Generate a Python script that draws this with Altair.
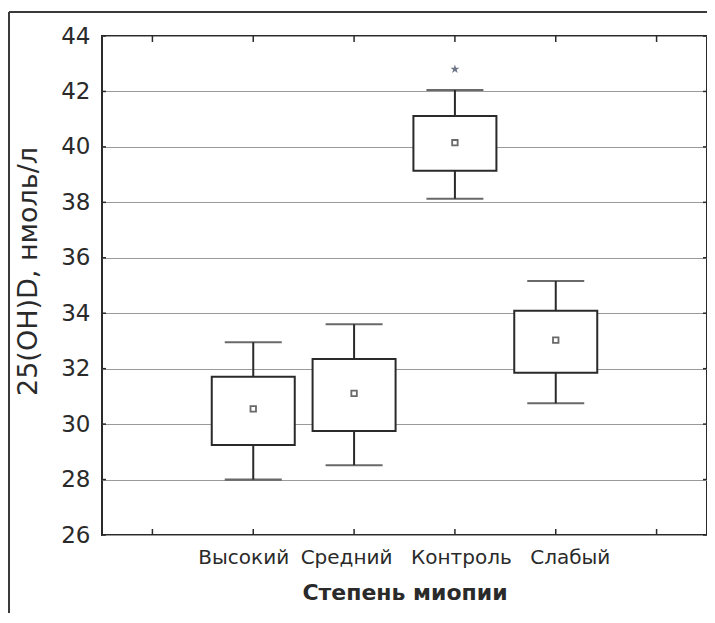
import altair as alt
import pandas as pd

groups = ["Высокий", "Средний", "Контроль", "Слабый"]
positions = [1.5, 2.5, 3.5, 4.5]
means = [30.55, 31.11, 40.15, 33.03]
box_lo = [29.25, 29.75, 39.14, 31.85]
box_hi = [31.71, 32.35, 41.11, 34.09]
whisk_lo = [28.0, 28.52, 38.13, 30.75]
whisk_hi = [32.95, 33.60, 42.05, 35.16]
star_pos = [3.5]
star_val = [42.8]
y_ticks = [26, 28, 30, 32, 34, 36, 38, 40, 42, 44]
x_ticks = [0.5, 1.5, 2.5, 3.5, 4.5, 5.5]
label_shift = [-10, -8, 6, 14]

X_DOM = [0, 6]
Y_DOM = [26, 44]
W, H = 605, 499
INK = "#2a2a2a"
STAR_PATH = ("M0,-1L0.2245,-0.309L0.951,-0.309L0.363,0.118L0.588,0.809L0,0.382"
             "L-0.588,0.809L-0.363,0.118L-0.951,-0.309L-0.2245,-0.309Z")

# pixel -> data unit conversions for decorative inner ticks and outer frame
px_x = (X_DOM[1] - X_DOM[0]) / W
px_y = (Y_DOM[1] - Y_DOM[0]) / H
XT_LEN = 6 * px_y
YT_LEN = 4 * px_x

rows = []
for g, p, m, bl, bh, wl, wh in zip(groups, positions, means, box_lo, box_hi, whisk_lo, whisk_hi):
    rows.append(dict(kind="box", g=g, a=p, b=m, c=bl, d=bh, e=wl, f=wh))
for p, v in zip(star_pos, star_val):
    rows.append(dict(kind="star", a=p, b=v))
for t in x_ticks:
    rows.append(dict(kind="xt", a=t, c=Y_DOM[0], d=Y_DOM[0] + XT_LEN))
    rows.append(dict(kind="xt", a=t, c=Y_DOM[1] - XT_LEN, d=Y_DOM[1]))
for t in y_ticks:
    rows.append(dict(kind="yt", b=t, c=X_DOM[0], d=X_DOM[0] + YT_LEN))
    rows.append(dict(kind="yt", b=t, c=X_DOM[1] - YT_LEN, d=X_DOM[1]))
fx0 = X_DOM[0] - 93 * px_x
fx1 = X_DOM[1] + 20 * px_x
fy_top = Y_DOM[1] + 24 * px_y
fy_bot = Y_DOM[0] - 90 * px_y
rows.append(dict(kind="frame", a=fx0, c=fx0, b=fy_top, d=fy_bot))
rows.append(dict(kind="frame", a=fx0, c=fx1, b=fy_top, d=fy_top))
df = pd.DataFrame(rows)

label_expr = " : ".join(f"datum.value == {p} ? '{g}'" for p, g in zip(positions, groups)) + " : ''"


def build(use_offsets):
    xs = alt.Scale(domain=X_DOM, nice=False, zero=False, padding=0)
    ys = alt.Scale(domain=Y_DOM, nice=False, zero=False, padding=0)

    extra = {}
    if use_offsets:
        extra["labelOffset"] = {
            "condition": [{"test": f"datum.value == {p}", "value": s}
                          for p, s in zip(positions, label_shift)],
            "value": 0,
        }
    x_axis = alt.Axis(orient="bottom", values=positions, labelExpr=label_expr, ticks=False,
                      grid=False, domain=False, labelFont="DejaVu Sans", labelFontSize=20,
                      labelColor=INK, labelPadding=12, title="Степень миопии",
                      titleFont="DejaVu Sans", titleFontSize=22, titleFontWeight="bold",
                      titleColor=INK, titlePadding=15, **extra)
    y_axis = alt.Axis(orient="left", values=y_ticks, ticks=False, domain=False, grid=True,
                      gridColor="#9a9a9a", gridWidth=1, labelFont="DejaVu Sans",
                      labelFontSize=23, labelColor=INK, labelPadding=12,
                      title="25(OH)D, нмоль/л", titleFont="DejaVu Sans", titleFontSize=27,
                      titleFontWeight="normal", titleColor=INK, titleAngle=-90, titleX=-74,
                      titleY=235, titleAlign="center", titleBaseline="middle")

    base = alt.Chart(df)
    boxes = base.transform_filter(alt.datum.kind == "box")

    axes_layer = boxes.mark_point(opacity=0).encode(
        x=alt.X("a:Q", scale=xs, axis=x_axis),
        y=alt.Y("b:Q", scale=ys, axis=y_axis),
    )
    whisk = boxes.mark_rule(color=INK, strokeWidth=2).encode(
        x=alt.X("a:Q", scale=xs), y=alt.Y("e:Q", scale=ys), y2="f:Q")
    cap_hi = boxes.mark_tick(orient="horizontal", size=57, thickness=2, color=INK).encode(
        x=alt.X("a:Q", scale=xs), y=alt.Y("f:Q", scale=ys))
    cap_lo = boxes.mark_tick(orient="horizontal", size=57, thickness=2, color=INK).encode(
        x=alt.X("a:Q", scale=xs), y=alt.Y("e:Q", scale=ys))
    box = boxes.mark_bar(size=83, fill="white", stroke=INK, strokeWidth=2).encode(
        x=alt.X("a:Q", scale=xs), y=alt.Y("c:Q", scale=ys), y2="d:Q")
    mean_pt = boxes.mark_point(shape="square", filled=False, size=30, strokeWidth=1.8,
                               color=INK).encode(
        x=alt.X("a:Q", scale=xs), y=alt.Y("b:Q", scale=ys))
    star = base.transform_filter(alt.datum.kind == "star").mark_point(
        shape=STAR_PATH, filled=True, size=90, color="#2f3a52").encode(
        x=alt.X("a:Q", scale=xs), y=alt.Y("b:Q", scale=ys))
    xt = base.transform_filter(alt.datum.kind == "xt").mark_rule(
        color=INK, strokeWidth=1.5).encode(
        x=alt.X("a:Q", scale=xs), y=alt.Y("c:Q", scale=ys), y2="d:Q")
    yt = base.transform_filter(alt.datum.kind == "yt").mark_rule(
        color=INK, strokeWidth=1.5).encode(
        y=alt.Y("b:Q", scale=ys), x=alt.X("c:Q", scale=xs), x2="d:Q")
    frame = base.transform_filter(alt.datum.kind == "frame").mark_rule(
        color="#3a3a3a", strokeWidth=2, clip=False).encode(
        x=alt.X("a:Q", scale=xs), x2="c:Q", y=alt.Y("b:Q", scale=ys), y2="d:Q")

    return alt.layer(axes_layer, whisk, cap_hi, cap_lo, box, mean_pt, star, xt, yt,
                     frame).properties(
        width=W, height=H,
        autosize=alt.AutoSizeParams(type="none"),
        padding={"left": 94, "top": 28, "right": 0, "bottom": 78},
        background="white",
    ).configure_view(stroke=INK, strokeWidth=2)


try:
    chart = build(True)
    chart.to_dict()
except Exception:
    chart = build(False)

chart.save("out.html", embed_options={"renderer": "svg", "actions": False})
